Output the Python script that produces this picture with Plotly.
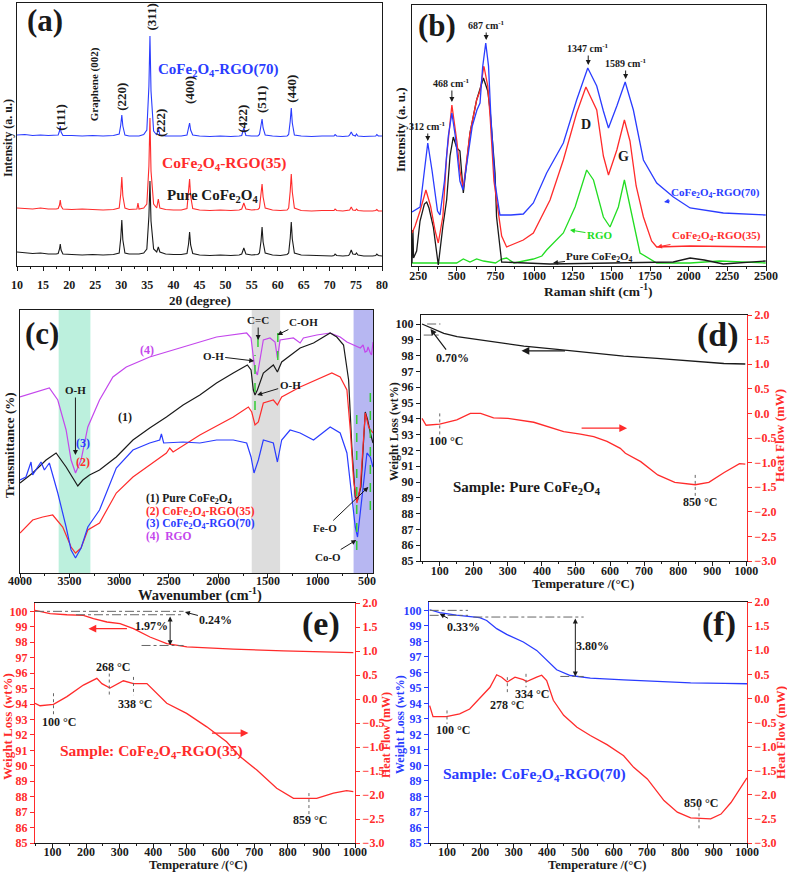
import plotly.graph_objects as go

W, H = 787, 873
SERIF = "Liberation Serif"
BLACK = "#1a1a1a"
RED = "#ff2b2b"
BLUE = "#2a3cff"
GREEN = "#22dd22"
PURPLE = "#c447ec"
GRAY = "#666666"

# ---------------- (a) XRD ----------------
xrd_two_theta = [
    10, 11.5, 13, 14.5, 16, 17.5,
    17.9, 18.15, 18.3, 18.45, 18.8,
    20.5, 22.5, 24.5, 26.5, 28.5,
    29.6, 29.9, 30.1, 30.3, 30.7,
    31.5, 32.6,
    33.0, 33.2, 33.4,
    34.3,
    34.9, 35.3, 35.5, 35.7, 36.2,
    36.8, 37.1, 37.4,
    38.5, 40, 41.5,
    42.6, 42.9, 43.1, 43.3, 43.7,
    45, 47, 49, 51, 52.6,
    53.1, 53.5, 53.9,
    55, 56.2,
    56.5, 56.8, 57.0, 57.2, 57.6,
    59, 60.5, 61.8,
    62.1, 62.4, 62.6, 62.8, 63.2,
    64.5, 66.5, 68.5, 70.4,
    70.8, 71.0, 71.3,
    72.5, 73.6,
    73.8, 74.1, 74.4,
    74.9, 75.1, 75.4,
    76.5, 78.2,
    78.8, 79.0, 79.3,
    80,
]
xrd_pure = [
    14, 13, 12.5, 13, 12, 12,
    12.5, 17, 22, 16, 12,
    11.5, 11, 11.5, 11, 11.5,
    13, 28, 46, 26, 13,
    12, 12,
    12, 12.5, 12,
    13,
    17, 50, 85, 45, 17,
    14, 19, 14,
    12, 11.5, 11.5,
    12.5, 22, 34, 21, 12.5,
    11, 10.5, 11, 10.5, 11,
    12, 18, 12,
    11, 11.5,
    13, 25, 39, 24, 13,
    11, 10.5, 11.5,
    13, 28, 44, 27, 13,
    11, 10.5, 10, 10,
    10.5, 12, 10.5,
    10, 10.5,
    12, 16, 12,
    11.5, 13, 11,
    10, 10,
    10.5, 12, 10.5,
    10,
]
xrd_rgo35 = [
    58, 57.5, 57, 58, 57, 57,
    57.5, 61, 66, 60, 57,
    56.5, 57, 56.5, 56, 56.5,
    58, 72, 89, 70, 58,
    56.5, 57,
    57, 63, 57,
    58,
    62, 100, 148, 95, 62,
    58, 67, 58,
    56.5, 56, 56,
    57.5, 72, 87, 70, 57.5,
    56, 55.5, 56, 55.5, 56,
    57, 63, 57,
    56, 56.5,
    58, 70, 82, 69, 58,
    56, 55.5, 56,
    58, 75, 92, 74, 58,
    55.5, 55, 55.5, 55,
    55.5, 57, 55.5,
    55, 55.5,
    56, 59, 56,
    55.5, 57, 55.5,
    55, 55,
    55.5, 56.5, 55,
    55,
]
xrd_rgo70 = [
    131, 131.5, 130.5, 131, 130.5, 130.5,
    131, 135, 140, 134, 130.5,
    130.5, 130, 130.5, 130, 130.5,
    132, 141, 151, 140, 131,
    130, 130,
    130, 130.5, 130,
    131.5,
    136, 180, 230, 175, 135,
    131, 138, 131,
    130, 130, 130,
    131, 137, 143, 136, 131,
    130, 129.5, 130, 129.5, 130,
    130.5, 138, 130.5,
    130, 130,
    131.5, 139, 147, 138, 131,
    130, 129.5, 130,
    131.5, 145, 158, 143, 131,
    130, 129.5, 130, 129.5,
    130, 131.5, 130,
    129.5, 130,
    131, 134, 131,
    130, 132, 130,
    129.5, 129.5,
    130, 131.5, 130,
    130,
]

# ---------------- (b) Raman ----------------
raman_shift_70 = [210, 262, 290, 312, 340, 375, 391, 420, 445, 468, 490, 520, 540, 565, 600, 630,
                  650, 667, 687, 705, 720, 747, 779, 850, 930, 995, 1081, 1189, 1275, 1347, 1405,
                  1448, 1481, 1535, 1589, 1642, 1707, 1793, 1901, 2009, 2224, 2498]
raman_int_70 = [54, 59, 95, 123, 95, 55, 51, 85, 130, 153, 130, 85, 76, 105, 140, 156,
                163, 199, 223, 200, 150, 83, 51, 51, 52, 63, 93, 123, 166, 198, 180,
                155, 138, 160, 184, 156, 106, 83, 69, 58, 53, 51]
raman_shift_35 = [210, 230, 262, 300, 330, 360, 380, 410, 434, 468, 500, 520, 542, 585, 628, 650,
                  675, 700, 715, 740, 757, 790, 822, 930, 995, 1103, 1189, 1275, 1335, 1405, 1448,
                  1481, 1535, 1584, 1620, 1660, 1707, 1760, 1793, 2009, 2498]
raman_int_35 = [33, 40, 55, 76, 60, 35, 23, 50, 110, 161, 125, 95, 78, 133, 166, 175,
                200, 180, 150, 85, 66, 30, 19, 26, 33, 66, 106, 153, 179, 156, 110,
                91, 116, 146, 125, 80, 49, 25, 19, 20, 19]
raman_shift_rgo = [210, 499, 542, 585, 628, 672, 750, 790, 822, 870, 995, 1050, 1081, 1189, 1265,
                   1340, 1384, 1448, 1491, 1545, 1584, 1632, 1685, 1793, 2009, 2200, 2498]
raman_int_rgo = [3, 3, 7, 4, 7, 5, 3, 7, 8, 3, 7, 10, 16, 33, 59,
                 96, 86, 49, 39, 59, 86, 52, 13, 3, 3, 5, 3]
raman_shift_pure = [210, 216, 220, 240, 262, 290, 305, 320, 348, 380, 410, 434, 456, 477, 500, 520,
                    542, 585, 628, 672, 700, 715, 747, 757, 790, 930, 1100, 1500, 1900, 2009, 2100,
                    2224, 2498]
raman_int_pure = [3, 36, 8, 15, 45, 62, 64, 58, 39, 1, 40, 66, 110, 129, 118, 115,
                  73, 133, 166, 188, 175, 156, 93, 49, 4, 3, 2, 3, 4, 8, 6,
                  2, 5]

# ---------------- (c) FTIR ----------------
ftir_wn_rgo = [4000, 3771, 3704, 3619, 3535, 3485, 3440, 3384, 3316, 3198, 3063, 2928, 2692, 2355,
               2018, 1714, 1670, 1647, 1630, 1606, 1580, 1546, 1479, 1428, 1404, 1377, 1243, 1175,
               1142, 1007, 872, 771, 703, 568, 540, 520, 501, 490, 467, 455, 440]
ftir_t_rgo = [176, 183, 185, 173, 143, 113, 100, 113, 146, 173, 196, 206, 216, 226,
              236, 240, 235, 216, 203, 198, 213, 233, 235, 231, 215, 233, 235, 230,
              235, 238, 240, 236, 231, 225, 228, 221, 222, 226, 220, 218, 231]
ftir_wn_pure = [4000, 3872, 3737, 3636, 3535, 3468, 3417, 3366, 3299, 3198, 3029, 2861, 2692, 2523,
                2355, 2186, 2018, 1849, 1707, 1670, 1647, 1630, 1606, 1546, 1445, 1404, 1361, 1175,
                1040, 872, 805, 737, 686, 653, 619, 596, 562, 518, 494, 467, 440]
ftir_t_pure = [90, 100, 113, 120, 106, 95, 87, 93, 98, 103, 116, 133, 145, 156,
               168, 178, 190, 200, 208, 203, 183, 178, 183, 200, 208, 201, 211, 225,
               230, 240, 236, 228, 193, 126, 76, 73, 86, 161, 153, 140, 130]
ftir_wn_35 = [4000, 3872, 3771, 3670, 3569, 3485, 3440, 3384, 3316, 3198, 3029, 2861, 2692, 2523,
              2490, 2456, 2186, 1849, 1697, 1663, 1630, 1596, 1546, 1445, 1404, 1361, 1175, 1007,
              855, 771, 703, 669, 636, 602, 568, 518, 484, 440]
ftir_t_35 = [40, 53, 56, 58, 46, 26, 20, 25, 43, 50, 80, 96, 108, 120,
             125, 121, 138, 156, 166, 161, 148, 151, 170, 173, 168, 176, 186, 193,
             200, 196, 183, 143, 93, 70, 86, 160, 146, 140]
ftir_wn_70 = [4000, 3940, 3889, 3872, 3822, 3788, 3754, 3704, 3670, 3619, 3535, 3485, 3440, 3384,
              3316, 3198, 3029, 2861, 2692, 2591, 2574, 2551, 2355, 2186, 2018, 1849, 1714, 1670,
              1640, 1596, 1546, 1445, 1404, 1361, 1276, 1175, 1040, 872, 771, 703, 653, 619,
              596, 552, 501, 467, 440]
ftir_t_70 = [93, 96, 111, 98, 106, 111, 103, 110, 98, 80, 46, 23, 15, 25,
             46, 63, 105, 123, 130, 133, 139, 130, 131, 130, 133, 133, 130, 116,
             100, 113, 133, 130, 111, 133, 143, 140, 133, 146, 140, 120, 76, 46,
             36, 76, 120, 116, 106]

# ---------------- (d) Pure CoFe2O4 TGA / DSC ----------------
tga_t_pure = [48, 112, 151, 249, 347, 445, 543, 640, 738, 836, 934, 997]
tga_w_pure = [100.0, 99.41, 99.2, 98.88, 98.6, 98.4, 98.19, 97.97, 97.83, 97.66, 97.5, 97.47]
dsc_t_pure = [48, 60, 100, 150, 190, 220, 258, 300, 376, 425, 464, 513, 552, 591, 630, 645,
              690, 740, 790, 850, 890, 935, 980, 997]
dsc_h_pure = [-0.10, -0.24, -0.22, -0.13, 0.0, 0.0, -0.09, -0.10, -0.18, -0.28, -0.37, -0.42,
              -0.47, -0.57, -0.71, -0.81, -0.98, -1.25, -1.40, -1.45, -1.40, -1.20, -1.02, -1.03]

# ---------------- (e) CoFe2O4-RGO(35) ----------------
tga_t_35 = [48, 93, 143, 192, 222, 262, 301, 341, 390, 440, 500, 638, 787, 936, 995]
tga_w_35 = [100.06, 99.85, 99.78, 99.74, 99.53, 99.31, 99.2, 98.88, 98.34, 97.91, 97.70,
            97.55, 97.44, 97.35, 97.33]
dsc_t_35 = [48, 63, 103, 143, 192, 232, 247, 271, 311, 341, 381, 410, 440, 499, 559, 618,
            658, 708, 767, 817, 886, 936, 975, 995]
dsc_h_35 = [-0.09, -0.14, -0.11, 0.05, 0.29, 0.43, 0.32, 0.23, 0.38, 0.32, 0.32, 0.12,
            -0.09, -0.30, -0.58, -0.89, -1.2, -1.48, -1.86, -2.07, -2.07, -1.96, -1.91, -1.93]

# ---------------- (f) CoFe2O4-RGO(70) ----------------
tga_t_70 = [48, 78, 128, 168, 198, 219, 249, 279, 329, 369, 399, 429, 470, 530, 630, 731,
            831, 932, 1000]
tga_w_70 = [100.04, 99.85, 99.7, 99.61, 99.53, 99.35, 98.82, 98.45, 97.96, 97.42, 96.77,
            96.17, 95.80, 95.63, 95.52, 95.42, 95.33, 95.29, 95.27]
dsc_t_70 = [48, 58, 98, 138, 168, 198, 229, 249, 264, 281, 304, 329, 339, 369, 384, 399,
            419, 450, 490, 530, 580, 630, 660, 701, 751, 791, 831, 891, 922, 952, 982, 1000]
dsc_h_70 = [-0.15, -0.38, -0.38, -0.32, -0.22, 0.0, 0.23, 0.49, 0.44, 0.34, 0.44, 0.39,
            0.35, 0.44, 0.48, 0.37, -0.04, -0.35, -0.6, -0.77, -0.96, -1.19, -1.43, -1.67,
            -2.12, -2.36, -2.48, -2.50, -2.40, -2.16, -1.84, -1.65]

CF = "CoFe<sub>2</sub>O<sub>4</sub>"

# ------------------------------------------------------------------
fig = go.Figure()


def line(x, y, color, xa, ya, width=1.2):
    fig.add_trace(go.Scatter(x=x, y=y, mode="lines", line=dict(color=color, width=width),
                             xaxis=xa, yaxis=ya, showlegend=False, hoverinfo="skip"))


line(xrd_two_theta, xrd_pure, BLACK, "x", "y", 1.1)
line(xrd_two_theta, xrd_rgo35, RED, "x", "y", 1.1)
line(xrd_two_theta, xrd_rgo70, BLUE, "x", "y", 1.1)

line(raman_shift_rgo, raman_int_rgo, GREEN, "x2", "y2", 1.3)
line(raman_shift_pure, raman_int_pure, BLACK, "x2", "y2", 1.3)
line(raman_shift_35, raman_int_35, RED, "x2", "y2", 1.3)
line(raman_shift_70, raman_int_70, BLUE, "x2", "y2", 1.3)

line(ftir_wn_rgo, ftir_t_rgo, PURPLE, "x3", "y3", 1.2)
line(ftir_wn_pure, ftir_t_pure, BLACK, "x3", "y3", 1.2)
line(ftir_wn_35, ftir_t_35, RED, "x3", "y3", 1.2)
line(ftir_wn_70, ftir_t_70, BLUE, "x3", "y3", 1.2)

line(tga_t_pure, tga_w_pure, BLACK, "x4", "y4", 1.3)
line(dsc_t_pure, dsc_h_pure, RED, "x4", "y5", 1.3)
line(tga_t_35, tga_w_35, RED, "x5", "y6", 1.3)
line(dsc_t_35, dsc_h_35, RED, "x5", "y7", 1.3)
line(tga_t_70, tga_w_70, BLUE, "x6", "y8", 1.3)
line(dsc_t_70, dsc_h_70, RED, "x6", "y9", 1.3)


def dx(x0, x1):
    return [x0 / W, x1 / W]


def dy(y0, y1):
    return [1 - y1 / H, 1 - y0 / H]


def tf(color=BLACK, size=12):
    return dict(family=SERIF, size=size, color=color, weight="bold")


def xax(dom, rng, dtick, anchor, minor=None, tick0=0, standoff=-6):
    d = dict(domain=dom, range=rng, dtick=dtick, tick0=tick0, anchor=anchor, showline=True,
             linecolor=BLACK, linewidth=1.4, mirror=True, ticks="outside", ticklen=4,
             tickwidth=1.2, tickcolor=BLACK, showgrid=False, zeroline=False, tickfont=tf(),
             ticklabelstandoff=standoff, automargin=False)
    if minor:
        d["minor"] = dict(ticks="outside", ticklen=2, dtick=minor, tickcolor=BLACK, showgrid=False)
    return d


def yax_blank(dom, rng, anchor):
    return dict(domain=dom, range=rng, anchor=anchor, showline=True, linecolor=BLACK,
                linewidth=1.4, mirror=True, ticks="", showticklabels=False, showgrid=False,
                zeroline=False, automargin=False)


def yax_left(dom, rng, anchor, color):
    return dict(domain=dom, range=rng, anchor=anchor, dtick=1, tick0=85, showline=True,
                linecolor=color, linewidth=1.4, mirror=False, ticks="outside", ticklen=4,
                tickcolor=color, tickwidth=1.2, showgrid=False, zeroline=False,
                tickfont=tf(color), automargin=False)


def yax_right(anchor, over):
    return dict(range=[-3, 2], anchor=anchor, overlaying=over, side="right", dtick=0.5, tick0=0,
                tickformat=".1f", showline=True, linecolor=RED, linewidth=1.4, ticks="outside",
                ticklen=4, tickcolor=RED, tickwidth=1.2, showgrid=False, zeroline=False,
                tickfont=tf(RED), automargin=False)


layout = dict(
    template="none",
    width=W, height=H, margin=dict(l=0, r=0, t=0, b=0, pad=0), autosize=False,
    paper_bgcolor="white", plot_bgcolor="white", showlegend=False,
    xaxis=xax(dx(17, 382), [10, 80], 5, "y", minor=2.5, standoff=3),
    yaxis=yax_blank(dy(3, 266), [0, 263], "x"),
    xaxis2=xax(dx(412, 766), [210, 2500], 250, "y2", minor=125, standoff=-6),
    yaxis2=yax_blank(dy(5, 266), [0, 261], "x2"),
    xaxis3=xax(dx(20, 373), [4000, 440], 500, "y3", minor=250, standoff=-8),
    yaxis3=yax_blank(dy(310, 573), [0, 263], "x3"),
    xaxis4=xax(dx(421, 747), [45, 1002], 100, "y4", minor=50, standoff=-6),
    yaxis4=yax_left(dy(315, 561), [85, 100.57], "x4", BLACK),
    yaxis5=yax_right("x4", "y4"),
    xaxis5=xax(dx(35, 355), [48, 1000], 100, "y6", minor=50, standoff=-7),
    yaxis6=yax_left(dy(603, 843), [85, 100.54], "x5", RED),
    yaxis7=yax_right("x5", "y6"),
    xaxis6=xax(dx(429, 747), [46, 1000], 100, "y8", minor=50, standoff=-7),
    yaxis8=yax_left(dy(602, 843), [85, 100.54], "x6", BLUE),
    yaxis9=yax_right("x6", "y8"),
)

ann = []
shapes = []


def A(x, y, text, xref="paper", yref="paper", size=12, color=BLACK, angle=0,
      xanchor="center", yanchor="middle"):
    if xref == "paper":
        x = x / W
    if yref == "paper":
        y = 1 - y / H
    ann.append(dict(x=x, y=y, xref=xref, yref=yref, text=text, showarrow=False, textangle=angle,
                    xanchor=xanchor, yanchor=yanchor, font=tf(color, size)))


def ARR(x, y, ax, ay, xref, yref, text="", size=11, color=BLACK, tcolor=None, asize=1.0,
        awidth=1.0, side="end", axref=None, ayref=None, head=2):
    d = dict(x=x, y=y, ax=ax, ay=ay, xref=xref, yref=yref, text=text, showarrow=True,
             arrowhead=head, arrowsize=asize, arrowwidth=awidth, arrowcolor=color,
             arrowside=side, font=tf(tcolor or color, size), standoff=0)
    if axref:
        d["axref"] = axref
        d["ayref"] = ayref
    ann.append(d)


def SEG(x0, y0, x1, y1, xref, yref, color=GRAY, width=1, dash="dashdot"):
    shapes.append(dict(type="line", x0=x0, y0=y0, x1=x1, y1=y1, xref=xref, yref=yref,
                       line=dict(color=color, width=width, dash=dash)))


# ---- panel letters & axis titles ----
A(45, 20, "(a)", size=31)
A(437, 25, "(b)", size=31)
A(42, 333, "(c)", size=31)
A(718, 335, "(d)", size=34)
A(321, 624, "(e)", size=34)
A(719, 624, "(f)", size=34)

A(8, 138, "Intensity (a. u.)", size=12, angle=-90)
A(200, 300, "2θ (degree)", size=13)
A(400, 130, "Intensity (a. u.)", size=13, angle=-90)
A(598, 291, "Raman shift (cm<sup>-1</sup>)", size=13.5)
A(10, 445, "Transmittance (%)", size=13, angle=-90)
A(200, 594, "Wavenumber (cm<sup>-1</sup>)", size=14.5)
A(394, 432, "Weight Loss (wt%)", size=12, angle=-90)
A(779, 436, "Heat Flow (mW)", size=13, color=RED, angle=-90)
A(583, 583, "Temperature /(°C)", size=13)
A(7, 727, "Weight Loss (wt%)", size=13, color=RED, angle=-90)
A(386, 735, "Heat Flow (mW)", size=12, color=RED, angle=-90)
A(198, 865, "Temperature /(°C)", size=12.5)
A(400, 725, "Weight Loss (wt%)", size=12, color=BLUE, angle=-90)
A(780, 733, "Heat Flow (mW)", size=13, color=RED, angle=-90)
A(597, 865, "Temperature /(°C)", size=12.5)

# ---- (a) labels ----
for xx, yy, t in [(18.4, 149, "(111)"), (30.1, 169, "(220)"), (35.8, 249, "(311)"),
                  (37.6, 143, "(222)"), (43.2, 176, "(400)"), (53.3, 147, "(422)"),
                  (57.0, 166, "(511)"), (62.7, 177, "(440)")]:
    A(xx, yy, t, "x", "y", size=13, angle=-90)
A(25.0, 182, "Graphene (002)", "x", "y", size=11, angle=-90)
A(48.5, 196, CF + "-RGO(70)", "x", "y", size=15, color=BLUE)
A(49.7, 103, CF + "-RGO(35)", "x", "y", size=15.5, color=RED)
A(47.4, 70, "Pure " + CF, "x", "y", size=15)

# ---- (b) labels ----
ARR(312, 125, 0, -15, "x2", "y2", "312 cm<sup>-1</sup>", size=10)
ARR(468, 164, 0, -19, "x2", "y2", "468 cm<sup>-1</sup>", size=10)
ARR(690, 226, 0, -15, "x2", "y2", "687 cm<sup>-1</sup>", size=10)
ARR(1350, 201, 0, -17, "x2", "y2", "1347 cm<sup>-1</sup>", size=10)
ARR(1592, 187, 0, -16, "x2", "y2", "1589 cm<sup>-1</sup>", size=10)
A(1336, 141, "D", "x2", "y2", size=14)
A(1575, 109, "G", "x2", "y2", size=14)
ARR(1840, 64, 52, -9, "x2", "y2", CF + "-RGO(70)", size=11, color=BLUE)
ARR(1795, 19, 59, -11, "x2", "y2", CF + "-RGO(35)", size=11, color=RED)
ARR(1232, 36, 30, 5, "x2", "y2", "RGO", size=11, color=GREEN)
ARR(1122, 3, 47, -6, "x2", "y2", "Pure " + CF, size=11, color=BLACK)

# ---- (c) bands, labels ----
for a0, a1, col in [(3610, 3290, "rgba(165,235,210,0.75)"), (1663, 1377, "rgba(210,210,210,0.75)"),
                    (636, 440, "rgba(170,170,240,0.85)")]:
    shapes.append(dict(type="rect", xref="x3", yref="y3 domain", x0=a0, x1=a1, y0=0, y1=1,
                       fillcolor=col, line=dict(width=0), layer="below"))
for xx, y0, y1 in [(1630, 163, 218), (1600, 226, 243), (1400, 213, 240), (604, 23, 166),
                   (467, 63, 188)]:
    SEG(xx, y0, xx, y1, "x3", "y3", color="#33cc33", width=1.5, dash="dash")
A(2721, 223, "(4)", "x3", "y3", size=12, color=PURPLE)
A(2944, 156, "(1)", "x3", "y3", size=12)
A(3360, 130, "(3)", "x3", "y3", size=12, color=BLUE)
A(3360, 111, "(2)", "x3", "y3", size=12, color=RED)
ARR(3441, 118, 0, -65, "x3", "y3", "O-H", size=11)
ARR(1598, 233, 0, -20, "x3", "y3", "C=C", size=11)
ARR(1404, 238, 26, -13, "x3", "y3", "C-OH", size=11)
ARR(1638, 212, -41, -5, "x3", "y3", "O-H", size=11)
ARR(1608, 178, 33, -10, "x3", "y3", "O-H", size=11)
ARR(487, 86, -43, 41, "x3", "y3", "Fe-O", size=11)
ARR(608, 33, -28, 17, "x3", "y3", "Co-O", size=11)
A(2752, 74, "(1) Pure " + CF, "x3", "y3", size=11.5, xanchor="left")
A(2752, 61.5, "(2) " + CF + "-RGO(35)", "x3", "y3", size=11.5, color=RED, xanchor="left")
A(2752, 49, "(3) " + CF + "-RGO(70)", "x3", "y3", size=11.5, color=BLUE, xanchor="left")
A(2752, 36.5, "(4)  RGO", "x3", "y3", size=11.5, color=PURPLE, xanchor="left")

# ---- (d) ----
SEG(63, 100.0, 102, 100.0, "x4", "y4")
SEG(53, 99.3, 102, 99.3, "x4", "y4")
ARR(73, 99.68, 22, 29, "x4", "y4", "0.70%", size=12, awidth=1.2)
ARR(340, 98.3, 45, 0, "x4", "y4", color=BLACK, asize=1.2, awidth=1.3)
ARR(650, -0.30, -47, 0, "x4", "y5", color=RED, asize=1.2, awidth=1.3)
SEG(100, 0.0, 100, -0.44, "x4", "y5", dash="dot")
SEG(850, -1.25, 850, -1.70, "x4", "y5", dash="dot")
A(118, -0.57, "100 °C", "x4", "y5", size=12)
A(865, -1.80, "850 °C", "x4", "y5", size=12)
A(356, 89.6, "Sample: Pure " + CF, "x4", "y4", size=15)

# ---- (e) ----
SEG(48, 100.0, 490, 100.0, "x5", "y6")
SEG(170, 99.78, 490, 99.78, "x5", "y6")
SEG(365, 97.79, 490, 97.79, "x5", "y6")
ARR(450, 97.8, 450, 99.76, "x5", "y6", axref="x5", ayref="y6", side="end+start",
    asize=1.0, awidth=1.0, head=2)
ARR(494, 99.95, 31, 8, "x5", "y6", "0.24%", size=12)
A(395, 99.03, "1.97%", "x5", "y6", size=12)
ARR(207, 98.88, 40, 0, "x5", "y6", color=RED, asize=1.2, awidth=1.3)
ARR(683, -0.71, -38, 0, "x5", "y7", color=RED, asize=1.2, awidth=1.3)
SEG(269, 0.53, 269, 0.08, "x5", "y7", dash="dot")
SEG(341, 0.46, 341, 0.08, "x5", "y7", dash="dot")
SEG(103, 0.12, 103, -0.33, "x5", "y7", dash="dot")
SEG(863, -1.96, 863, -2.41, "x5", "y7", dash="dot")
A(281, 0.66, "268 °C", "x5", "y7", size=12)
A(346, -0.11, "338 °C", "x5", "y7", size=12)
A(118, -0.47, "100 °C", "x5", "y7", size=12)
A(866, -2.52, "859 °C", "x5", "y7", size=12)
A(395, 90.92, "Sample: " + CF + "-RGO(35)", "x5", "y6", size=15.5, color=RED)

# ---- (f) ----
SEG(48, 100.0, 163, 100.0, "x6", "y8")
SEG(48, 99.68, 163, 99.68, "x6", "y8")
SEG(179, 99.57, 510, 99.57, "x6", "y8")
SEG(440, 95.74, 510, 95.74, "x6", "y8")
ARR(485, 95.74, 485, 99.57, "x6", "y8", axref="x6", ayref="y8", side="end+start",
    asize=1.0, awidth=1.0, head=2)
ARR(78, 99.78, 24, 13, "x6", "y8", "0.33%", size=12)
A(535, 97.70, "3.80%", "x6", "y8", size=12)
SEG(281, 0.44, 281, 0.13, "x6", "y9", dash="dot")
SEG(337, 0.51, 337, 0.23, "x6", "y9", dash="dot")
SEG(100, -0.25, 100, -0.53, "x6", "y9", dash="dot")
SEG(856, -2.26, 856, -2.71, "x6", "y9", dash="dot")
A(279, -0.13, "278 °C", "x6", "y9", size=12)
A(354, 0.10, "334 °C", "x6", "y9", size=12)
A(118, -0.65, "100 °C", "x6", "y9", size=12)
A(861, -2.18, "850 °C", "x6", "y9", size=12)
A(361, 89.39, "Sample: " + CF + "-RGO(70)", "x6", "y8", size=15.5, color=BLUE)

layout["annotations"] = ann
layout["shapes"] = shapes
fig.update_layout(**layout)
fig.write_html("out.html", config={"displayModeBar": False},
               post_script="document.body.style.margin='0';document.body.style.padding='0';")
